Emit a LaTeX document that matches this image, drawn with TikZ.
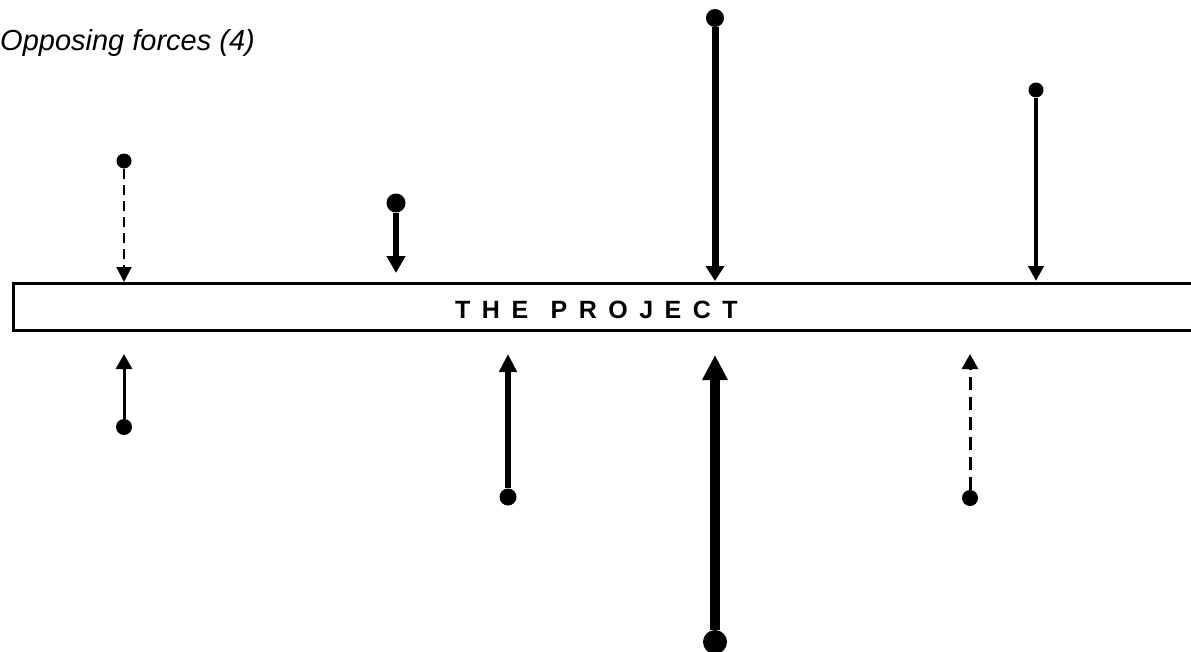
\documentclass[tikz,border=0pt]{standalone}
\usepackage{fontspec}
\setmainfont{Liberation Sans}
\newfontfamily\barfont[LetterSpace=46]{Liberation Sans}
\usetikzlibrary{arrows.meta}

\tikzset{
  dot/.style={circle, fill=black, inner sep=0pt, minimum size=#1},
  plainline/.style={solid},
  dashshort/.style={dash pattern=on 10pt off 6pt},
  dashlong/.style={dash pattern=on 13pt off 7pt}
}

\begin{document}
\begin{tikzpicture}[x=1pt,y=-1pt]
  \clip (0,0) rectangle (1191,651);
  \useasboundingbox (0,0) rectangle (1191,651);

  \node[anchor=base west, inner sep=0pt, font=\itshape\fontsize{29}{33}\selectfont] (title) at (0,50) {Opposing forces (4)};

  % the project bar
  \node[draw, line width=3pt, anchor=north west, minimum width=1250pt, minimum height=47pt] (bar) at (12,282) {};
  \node[anchor=base west, inner sep=0pt, font=\barfont\bfseries\fontsize{25}{29}\selectfont] (project) at (455,318) {THE\hspace{4pt} PROJECT};

  % forces: name/x/dot y/tip y/line width/dot size/head width/head length/line style
  \foreach \f/\x/\yd/\yt/\lw/\d/\hw/\hl/\pat in {
      a1/124/161/282/2/15/15/15/dashshort,
      a2/396/203/273/6/19/18/17/plainline,
      a3/715/18/281/7/18/18/15/plainline,
      a4/1036/90/281/4/15/15/15/plainline,
      b1/124/427/354/3/16/16/15/plainline,
      b2/508/497/354/6/17/17/18/plainline,
      b3/715/642/355/10/24/24/25/plainline,
      b4/970/498/354/3/16/16/15/dashlong}
  {
    \node[dot=\d pt] (dot-\f) at (\x,\yd) {};
    \coordinate (tip-\f) at (\x,\yt);
    \draw[line width=\lw pt, \pat, -{Triangle[width=\hw pt, length=\hl pt]}] (dot-\f) -- (tip-\f);
  }
\end{tikzpicture}
\end{document}
